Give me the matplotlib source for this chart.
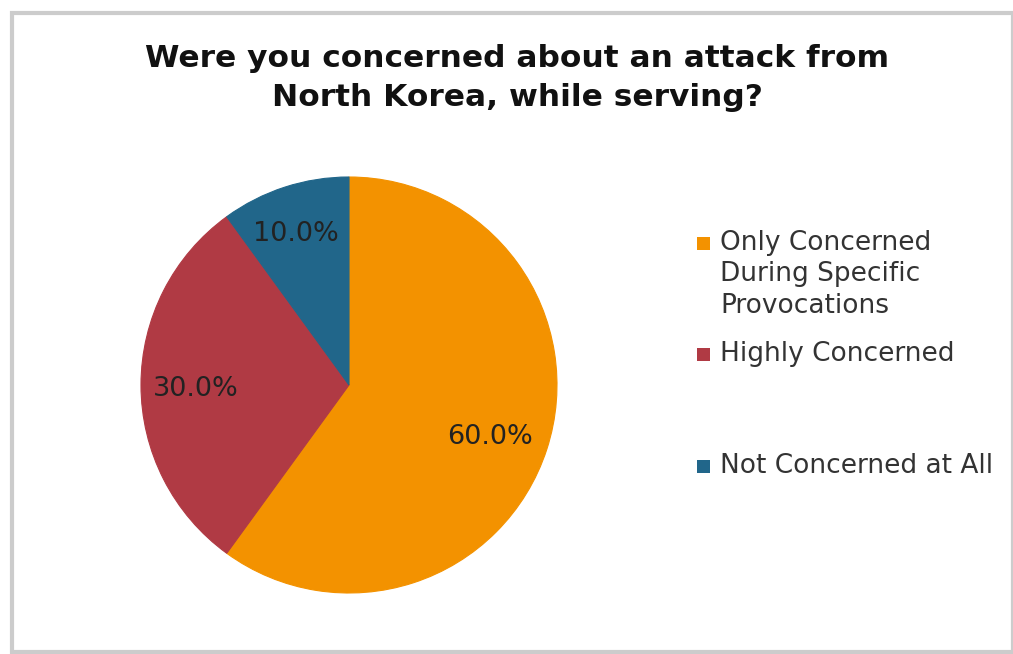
import matplotlib
matplotlib.use("Agg")
import matplotlib.pyplot as plt
from matplotlib.patches import Rectangle

title = "Were you concerned about an attack from\nNorth Korea, while serving?"
categories = ["Only Concerned\nDuring Specific\nProvocations", "Highly Concerned", "Not Concerned at All"]
values = [60.0, 30.0, 10.0]
colors = ["#F39200", "#B03A44", "#21668A"]

W, H = 1013, 654
fig = plt.figure(figsize=(W / 100, H / 100), dpi=100)
fig.patch.set_facecolor("white")

# border
fig.patches.append(Rectangle((12 / W, 2 / H), (W - 12) / W, (H - 15) / H, transform=fig.transFigure,
                             fill=False, edgecolor="#CCCCCC", linewidth=3))

cx, cy, r = 349, 385, 208
ax = fig.add_axes([(cx - r) / W, (H - cy - r) / H, 2 * r / W, 2 * r / H])
wedges, texts = ax.pie(values, colors=colors, startangle=90, counterclock=False,
                       wedgeprops=dict(linewidth=0.8))
for w, c in zip(wedges, colors):
    w.set_edgecolor(c)
ax.set_xlim(-1, 1)
ax.set_ylim(-1, 1)
ax.set_aspect("equal")
ax.axis("off")

# percentage labels
label_pos = [(490, 437), (196, 389), (296, 234)]
for (px, py), v in zip(label_pos, values):
    ax.text(*ax.transData.inverted().transform(fig.transFigure.transform((px / W, 1 - py / H))),
            f"{v:.1f}%", ha="center", va="center", fontsize=19.5, color="#222222",
            family="DejaVu Sans")

fig.text(517 / W, 1 - 78 / H, title, ha="center", va="center", fontsize=22.5,
         fontweight="bold", color="#111111", linespacing=1.4, family="DejaVu Sans")

# legend
leg_y = [243, 354, 466]
for y, lab, c in zip(leg_y, categories, colors):
    fig.patches.append(Rectangle((697 / W, 1 - (y + 7) / H), 13 / W, 13 / H,
                                 transform=fig.transFigure, facecolor=c, edgecolor="none"))
    fig.text(720 / W, 1 - (y - 13) / H, lab, ha="left", va="top", fontsize=19,
             color="#333333", linespacing=1.27, family="DejaVu Sans")

fig.savefig("out.png", dpi=100)
